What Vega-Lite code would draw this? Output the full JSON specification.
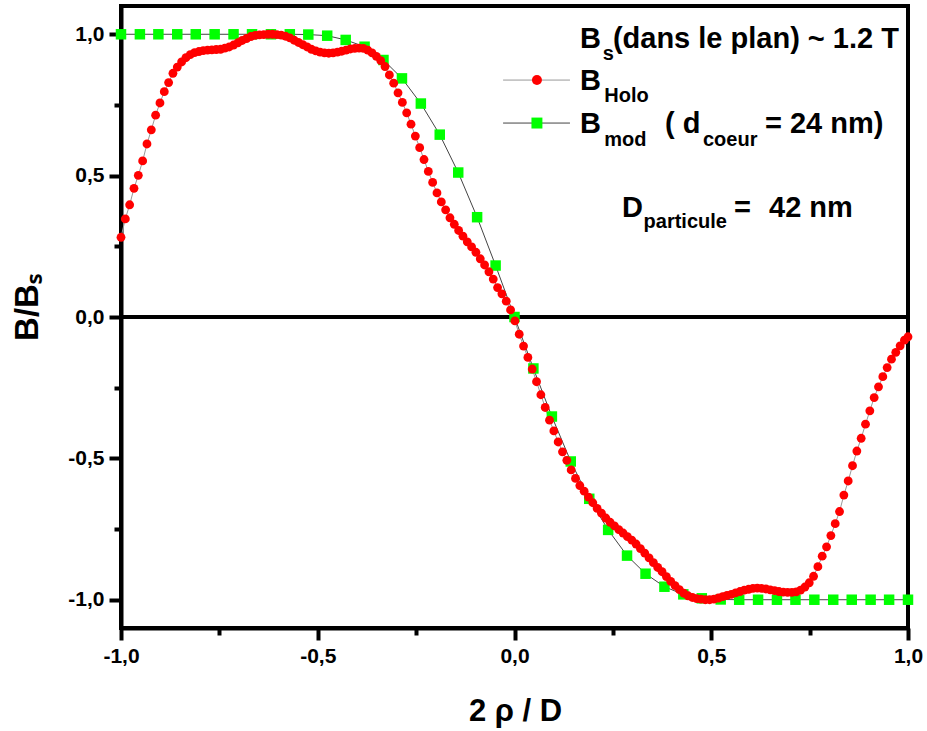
{
  "$schema": "https://vega.github.io/schema/vega-lite/v6.json",
  "width": 787,
  "height": 622,
  "autosize": {"type": "none"},
  "padding": {"left": 121, "top": 6, "right": 19, "bottom": 103},
  "background": "white",
  "config": {
    "font": "Liberation Sans",
    "view": {"stroke": "black", "strokeWidth": 4},
    "axis": {"grid": false, "domainColor": "black", "domainWidth": 4, "tickColor": "black", "tickWidth": 4, "labelColor": "black", "labelFont": "Liberation Sans", "labelFontWeight": "bold", "labelFontSize": 21, "titleColor": "black", "titleFont": "Liberation Sans", "titleFontWeight": "bold", "labelOverlap": false, "labelFlush": false}
  },
  "datasets": {
    "holo": [
      {"x":-1.000,"y":0.282},{"x":-0.989,"y":0.347},{"x":-0.978,"y":0.397},{"x":-0.967,"y":0.455},{"x":-0.956,"y":0.501},{"x":-0.945,"y":0.552},{"x":-0.934,"y":0.612},{"x":-0.923,"y":0.662},{"x":-0.912,"y":0.714},{"x":-0.901,"y":0.757},{"x":-0.890,"y":0.797},{"x":-0.879,"y":0.829},{"x":-0.868,"y":0.862},{"x":-0.857,"y":0.884},{"x":-0.846,"y":0.902},{"x":-0.835,"y":0.917},{"x":-0.824,"y":0.928},{"x":-0.813,"y":0.935},{"x":-0.802,"y":0.939},{"x":-0.791,"y":0.942},{"x":-0.780,"y":0.944},{"x":-0.769,"y":0.945},{"x":-0.758,"y":0.946},{"x":-0.747,"y":0.947},{"x":-0.736,"y":0.951},{"x":-0.725,"y":0.955},{"x":-0.714,"y":0.962},{"x":-0.703,"y":0.970},{"x":-0.692,"y":0.978},{"x":-0.681,"y":0.985},{"x":-0.670,"y":0.992},{"x":-0.659,"y":0.996},{"x":-0.648,"y":0.998},{"x":-0.637,"y":0.999},{"x":-0.626,"y":1.000},{"x":-0.615,"y":1.000},{"x":-0.604,"y":0.999},{"x":-0.593,"y":0.997},{"x":-0.582,"y":0.993},{"x":-0.571,"y":0.987},{"x":-0.560,"y":0.979},{"x":-0.549,"y":0.971},{"x":-0.538,"y":0.963},{"x":-0.527,"y":0.955},{"x":-0.516,"y":0.947},{"x":-0.505,"y":0.941},{"x":-0.494,"y":0.937},{"x":-0.483,"y":0.934},{"x":-0.472,"y":0.933},{"x":-0.461,"y":0.934},{"x":-0.450,"y":0.937},{"x":-0.439,"y":0.940},{"x":-0.428,"y":0.944},{"x":-0.417,"y":0.948},{"x":-0.406,"y":0.950},{"x":-0.395,"y":0.951},{"x":-0.384,"y":0.950},{"x":-0.373,"y":0.944},{"x":-0.362,"y":0.934},{"x":-0.351,"y":0.922},{"x":-0.340,"y":0.907},{"x":-0.329,"y":0.886},{"x":-0.318,"y":0.856},{"x":-0.307,"y":0.827},{"x":-0.296,"y":0.793},{"x":-0.285,"y":0.759},{"x":-0.274,"y":0.722},{"x":-0.263,"y":0.682},{"x":-0.252,"y":0.640},{"x":-0.241,"y":0.599},{"x":-0.230,"y":0.557},{"x":-0.219,"y":0.515},{"x":-0.208,"y":0.476},{"x":-0.197,"y":0.439},{"x":-0.186,"y":0.407},{"x":-0.175,"y":0.379},{"x":-0.164,"y":0.351},{"x":-0.153,"y":0.328},{"x":-0.142,"y":0.306},{"x":-0.131,"y":0.286},{"x":-0.120,"y":0.266},{"x":-0.109,"y":0.248},{"x":-0.098,"y":0.229},{"x":-0.087,"y":0.206},{"x":-0.076,"y":0.184},{"x":-0.065,"y":0.160},{"x":-0.054,"y":0.134},{"x":-0.043,"y":0.104},{"x":-0.032,"y":0.082},{"x":-0.021,"y":0.056},{"x":-0.010,"y":0.025},{"x":0.001,"y":-0.014},{"x":0.012,"y":-0.061},{"x":0.023,"y":-0.103},{"x":0.034,"y":-0.143},{"x":0.045,"y":-0.184},{"x":0.056,"y":-0.229},{"x":0.067,"y":-0.275},{"x":0.078,"y":-0.320},{"x":0.089,"y":-0.365},{"x":0.100,"y":-0.403},{"x":0.111,"y":-0.442},{"x":0.122,"y":-0.477},{"x":0.133,"y":-0.507},{"x":0.144,"y":-0.541},{"x":0.155,"y":-0.571},{"x":0.166,"y":-0.596},{"x":0.177,"y":-0.616},{"x":0.188,"y":-0.637},{"x":0.199,"y":-0.657},{"x":0.210,"y":-0.677},{"x":0.221,"y":-0.694},{"x":0.232,"y":-0.711},{"x":0.243,"y":-0.726},{"x":0.254,"y":-0.739},{"x":0.265,"y":-0.752},{"x":0.276,"y":-0.764},{"x":0.287,"y":-0.777},{"x":0.298,"y":-0.789},{"x":0.309,"y":-0.803},{"x":0.320,"y":-0.819},{"x":0.331,"y":-0.835},{"x":0.342,"y":-0.852},{"x":0.353,"y":-0.869},{"x":0.364,"y":-0.886},{"x":0.375,"y":-0.901},{"x":0.386,"y":-0.918},{"x":0.397,"y":-0.935},{"x":0.408,"y":-0.950},{"x":0.419,"y":-0.964},{"x":0.430,"y":-0.977},{"x":0.441,"y":-0.986},{"x":0.452,"y":-0.992},{"x":0.463,"y":-0.996},{"x":0.474,"y":-0.998},{"x":0.485,"y":-1.000},{"x":0.496,"y":-1.000},{"x":0.507,"y":-0.998},{"x":0.518,"y":-0.994},{"x":0.529,"y":-0.989},{"x":0.540,"y":-0.985},{"x":0.551,"y":-0.981},{"x":0.562,"y":-0.976},{"x":0.573,"y":-0.971},{"x":0.584,"y":-0.966},{"x":0.595,"y":-0.963},{"x":0.606,"y":-0.960},{"x":0.617,"y":-0.959},{"x":0.628,"y":-0.960},{"x":0.639,"y":-0.962},{"x":0.650,"y":-0.965},{"x":0.661,"y":-0.968},{"x":0.672,"y":-0.971},{"x":0.683,"y":-0.973},{"x":0.694,"y":-0.974},{"x":0.705,"y":-0.974},{"x":0.716,"y":-0.972},{"x":0.727,"y":-0.966},{"x":0.738,"y":-0.955},{"x":0.749,"y":-0.940},{"x":0.760,"y":-0.917},{"x":0.771,"y":-0.883},{"x":0.782,"y":-0.846},{"x":0.793,"y":-0.813},{"x":0.804,"y":-0.773},{"x":0.815,"y":-0.731},{"x":0.826,"y":-0.688},{"x":0.837,"y":-0.630},{"x":0.848,"y":-0.580},{"x":0.859,"y":-0.526},{"x":0.870,"y":-0.474},{"x":0.881,"y":-0.429},{"x":0.892,"y":-0.379},{"x":0.903,"y":-0.332},{"x":0.914,"y":-0.285},{"x":0.925,"y":-0.247},{"x":0.936,"y":-0.211},{"x":0.947,"y":-0.179},{"x":0.958,"y":-0.149},{"x":0.969,"y":-0.125},{"x":0.980,"y":-0.102},{"x":0.991,"y":-0.082},{"x":1.000,"y":-0.070}
    ],
    "mod": [
      {"x":-1.000,"y":1.0},{"x":-0.952,"y":1.0},{"x":-0.905,"y":1.0},{"x":-0.857,"y":1.0},{"x":-0.810,"y":1.0},{"x":-0.762,"y":1.0},{"x":-0.714,"y":1.0},{"x":-0.667,"y":1.0},{"x":-0.619,"y":1.0},{"x":-0.571,"y":1.0},{"x":-0.524,"y":0.999},{"x":-0.476,"y":0.995},{"x":-0.429,"y":0.980},{"x":-0.381,"y":0.956},{"x":-0.333,"y":0.909},{"x":-0.286,"y":0.844},{"x":-0.238,"y":0.755},{"x":-0.190,"y":0.645},{"x":-0.143,"y":0.511},{"x":-0.095,"y":0.353},{"x":-0.048,"y":0.182},{"x":0.000,"y":0.0},{"x":0.048,"y":-0.182},{"x":0.095,"y":-0.352},{"x":0.143,"y":-0.511},{"x":0.190,"y":-0.643},{"x":0.238,"y":-0.753},{"x":0.286,"y":-0.844},{"x":0.333,"y":-0.908},{"x":0.381,"y":-0.954},{"x":0.429,"y":-0.981},{"x":0.476,"y":-0.995},{"x":0.524,"y":-0.999},{"x":0.571,"y":-1.0},{"x":0.619,"y":-1.0},{"x":0.667,"y":-1.0},{"x":0.714,"y":-1.0},{"x":0.762,"y":-1.0},{"x":0.810,"y":-1.0},{"x":0.857,"y":-1.0},{"x":0.905,"y":-1.0},{"x":0.952,"y":-1.0},{"x":1.000,"y":-1.0}
    ],
    "mainText": [
      {"x":0.1665,"y":0.951,"text":"B"},
      {"x":0.250,"y":0.951,"text":"(dans le plan) ~ 1.2 T"},
      {"x":0.1665,"y":0.803,"text":"B"},
      {"x":0.1665,"y":0.651,"text":"B"},
      {"x":0.3825,"y":0.651,"text":"( d"},
      {"x":0.6366,"y":0.651,"text":"= 24 nm)"},
      {"x":0.2732,"y":0.354,"text":"D"},
      {"x":0.5580,"y":0.354,"text":"="},
      {"x":0.6468,"y":0.354,"text":"42 nm"}
    ],
    "subText": [
      {"x":0.224,"y":0.909,"text":"s"},
      {"x":0.228,"y":0.760,"text":"Holo"},
      {"x":0.228,"y":0.605,"text":"mod"},
      {"x":0.479,"y":0.605,"text":"coeur"},
      {"x":0.328,"y":0.315,"text":"particule"}
    ]
  },
  "resolve": {"axis": {"x": "independent", "y": "independent"}},
  "layer": [
    {
      "data": {"values": [{"x": -1, "x2": 1, "y": 0}]},
      "mark": {"type": "rule", "color": "black", "strokeWidth": 4},
      "encoding": {
        "x": {"field": "x", "type": "quantitative", "scale": {"domain": [-1, 1], "nice": false, "zero": false}, "axis": null},
        "x2": {"field": "x2"},
        "y": {"field": "y", "type": "quantitative", "scale": {"domain": [-1.1, 1.1], "nice": false, "zero": false}, "axis": null}
      }
    },
    {
      "data": {"name": "mod"},
      "mark": {"type": "line", "color": "#444444", "strokeWidth": 1},
      "encoding": {
        "x": {"field": "x", "type": "quantitative", "scale": {"domain": [-1, 1], "nice": false, "zero": false},
          "axis": {"orient": "bottom", "values": [-1, -0.5, 0, 0.5, 1], "tickSize": 12, "labelPadding": 5,
            "labelExpr": "(datum.value < 0 ? '-' : '') + replace(format(abs(datum.value), '.1f'), '.', ',')",
            "title": "2 ρ / D", "titleFontSize": 31, "titleX": 394, "titleY": 92, "titleBaseline": "alphabetic", "titleAlign": "center", "titleAnchor": null}},
        "y": {"field": "y", "type": "quantitative", "scale": {"domain": [-1.1, 1.1], "nice": false, "zero": false},
          "axis": {"orient": "left", "values": [-1, -0.5, 0, 0.5, 1], "tickSize": 12, "labelPadding": 5,
            "labelExpr": "(datum.value < 0 ? '-' : '') + replace(format(abs(datum.value), '.1f'), '.', ',')",
            "title": "B/Bₛ", "titleFontSize": 33, "titleAngle": -90, "titleX": -84, "titleY": 301, "titleBaseline": "alphabetic", "titleAlign": "center", "titleAnchor": null}}
      }
    },
    {
      "data": {"name": "holo"},
      "mark": {"type": "line", "color": "#999999", "strokeWidth": 1},
      "encoding": {
        "x": {"field": "x", "type": "quantitative", "axis": {"orient": "bottom", "values": [-0.75, -0.25, 0.25, 0.75], "labels": false, "domain": false, "tickSize": 7, "title": null}},
        "y": {"field": "y", "type": "quantitative", "axis": {"orient": "left", "values": [-0.75, -0.25, 0.25, 0.75], "labels": false, "domain": false, "tickSize": 7, "title": null}}
      }
    },
    {
      "data": {"name": "mod"},
      "mark": {"type": "point", "shape": "square", "filled": true, "color": "#00ff00", "opacity": 1, "size": 110},
      "encoding": {
        "x": {"field": "x", "type": "quantitative", "axis": null},
        "y": {"field": "y", "type": "quantitative", "axis": null}
      }
    },
    {
      "data": {"name": "holo"},
      "mark": {"type": "circle", "color": "#ff0000", "opacity": 1, "size": 78},
      "encoding": {
        "x": {"field": "x", "type": "quantitative", "axis": null},
        "y": {"field": "y", "type": "quantitative", "axis": null}
      }
    },
    {
      "data": {"values": [{"x": -0.029, "x2": 0.141, "y": 0.838}]},
      "mark": {"type": "rule", "color": "#999999", "strokeWidth": 1},
      "encoding": {
        "x": {"field": "x", "type": "quantitative", "axis": null},
        "x2": {"field": "x2"},
        "y": {"field": "y", "type": "quantitative", "axis": null}
      }
    },
    {
      "data": {"values": [{"x": -0.029, "x2": 0.141, "y": 0.686}]},
      "mark": {"type": "rule", "color": "#444444", "strokeWidth": 1},
      "encoding": {
        "x": {"field": "x", "type": "quantitative", "axis": null},
        "x2": {"field": "x2"},
        "y": {"field": "y", "type": "quantitative", "axis": null}
      }
    },
    {
      "data": {"values": [{"x": 0.057, "y": 0.838}]},
      "mark": {"type": "circle", "color": "#ff0000", "opacity": 1, "size": 100},
      "encoding": {
        "x": {"field": "x", "type": "quantitative", "axis": null},
        "y": {"field": "y", "type": "quantitative", "axis": null}
      }
    },
    {
      "data": {"values": [{"x": 0.057, "y": 0.686}]},
      "mark": {"type": "point", "shape": "square", "filled": true, "color": "#00ff00", "opacity": 1, "size": 120},
      "encoding": {
        "x": {"field": "x", "type": "quantitative", "axis": null},
        "y": {"field": "y", "type": "quantitative", "axis": null}
      }
    },
    {
      "data": {"name": "mainText"},
      "mark": {"type": "text", "align": "left", "baseline": "alphabetic", "font": "Liberation Sans", "fontWeight": "bold", "fontSize": 29, "color": "black"},
      "encoding": {
        "x": {"field": "x", "type": "quantitative", "axis": null},
        "y": {"field": "y", "type": "quantitative", "axis": null},
        "text": {"field": "text"}
      }
    },
    {
      "data": {"name": "subText"},
      "mark": {"type": "text", "align": "left", "baseline": "alphabetic", "font": "Liberation Sans", "fontWeight": "bold", "fontSize": 20, "color": "black"},
      "encoding": {
        "x": {"field": "x", "type": "quantitative", "axis": null},
        "y": {"field": "y", "type": "quantitative", "axis": null},
        "text": {"field": "text"}
      }
    }
  ]
}
